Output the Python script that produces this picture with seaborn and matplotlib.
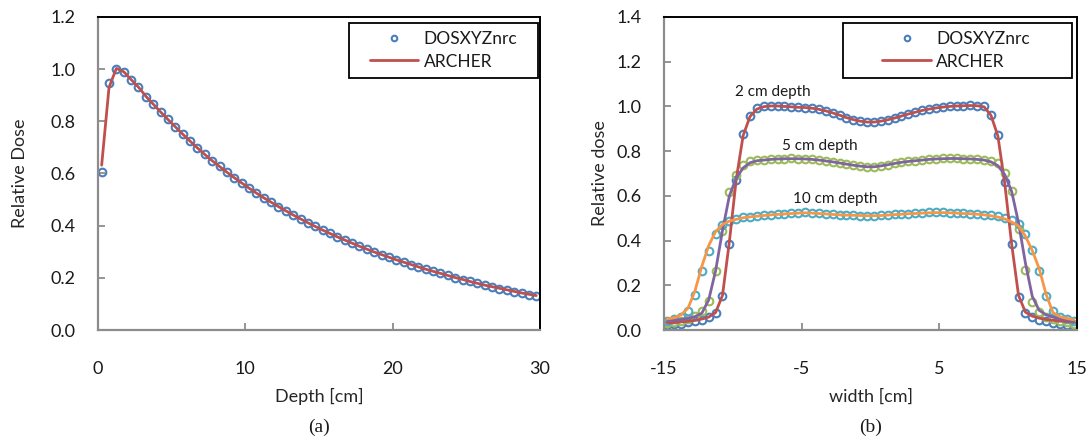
import numpy as np
import matplotlib
matplotlib.use("Agg")
import matplotlib.pyplot as plt
import seaborn as sns
from matplotlib.patches import Rectangle
from matplotlib.lines import Line2D

# (a) depth dose
depth = np.arange(0.25, 30, 0.5)
pdd_mc = [0.607, 0.945, 1.000, 0.988, 0.958, 0.930, 0.895, 0.866, 0.836, 0.808,
          0.779, 0.752, 0.724, 0.698, 0.673, 0.649, 0.627, 0.605, 0.584, 0.564,
          0.544, 0.525, 0.507, 0.490, 0.473, 0.456, 0.441, 0.426, 0.411, 0.397,
          0.383, 0.370, 0.357, 0.345, 0.333, 0.321, 0.310, 0.299, 0.289, 0.279,
          0.269, 0.260, 0.251, 0.242, 0.233, 0.225, 0.217, 0.209, 0.201, 0.193,
          0.186, 0.179, 0.172, 0.166, 0.159, 0.153, 0.147, 0.142, 0.136, 0.131]
pdd_archer = [0.632, 0.930, 1.003, 0.990, 0.960, 0.931, 0.896, 0.866, 0.836, 0.807,
              0.779, 0.751, 0.724, 0.698, 0.673, 0.649, 0.627, 0.605, 0.584, 0.564,
              0.544, 0.525, 0.507, 0.490, 0.473, 0.457, 0.441, 0.426, 0.411, 0.397,
              0.383, 0.370, 0.357, 0.345, 0.333, 0.321, 0.310, 0.299, 0.289, 0.279,
              0.269, 0.260, 0.251, 0.242, 0.233, 0.225, 0.217, 0.209, 0.201, 0.194,
              0.186, 0.179, 0.172, 0.166, 0.160, 0.154, 0.148, 0.142, 0.137, 0.132]

# (b) lateral profiles at 2, 5, 10 cm depth
width = np.arange(-14.75, 15, 0.5)
prof2_mc = [0.021, 0.025, 0.029, 0.034, 0.040, 0.046, 0.056, 0.075, 0.150, 0.385,
            0.670, 0.875, 0.958, 0.992, 1.001, 1.004, 1.003, 1.000, 0.998, 0.996,
            0.995, 0.993, 0.988, 0.981, 0.972, 0.961, 0.950, 0.941, 0.935, 0.929,
            0.930, 0.934, 0.941, 0.950, 0.958, 0.966, 0.975, 0.983, 0.989, 0.994,
            0.998, 1.000, 1.002, 1.004, 1.006, 1.004, 1.000, 0.962, 0.872, 0.660,
            0.383, 0.149, 0.075, 0.056, 0.046, 0.039, 0.033, 0.027, 0.021, 0.016]
prof2_archer = [0.031, 0.033, 0.036, 0.039, 0.043, 0.049, 0.058, 0.078, 0.155, 0.395,
                0.675, 0.870, 0.955, 0.988, 0.999, 1.002, 1.002, 1.000, 0.998, 0.996,
                0.995, 0.992, 0.987, 0.980, 0.971, 0.961, 0.950, 0.941, 0.934, 0.930,
                0.930, 0.934, 0.940, 0.948, 0.957, 0.966, 0.974, 0.982, 0.988, 0.993,
                0.997, 1.000, 1.002, 1.003, 1.004, 1.003, 0.998, 0.960, 0.868, 0.655,
                0.385, 0.155, 0.080, 0.062, 0.053, 0.047, 0.043, 0.040, 0.038, 0.036]
prof5_mc = [0.030, 0.034, 0.040, 0.048, 0.062, 0.085, 0.128, 0.262, 0.445, 0.615,
            0.695, 0.738, 0.755, 0.760, 0.762, 0.765, 0.766, 0.767, 0.768, 0.767,
            0.766, 0.763, 0.760, 0.756, 0.752, 0.748, 0.743, 0.738, 0.733, 0.730,
            0.731, 0.735, 0.740, 0.746, 0.750, 0.754, 0.758, 0.761, 0.764, 0.766,
            0.768, 0.768, 0.768, 0.767, 0.766, 0.763, 0.760, 0.756, 0.745, 0.700,
            0.620, 0.450, 0.268, 0.127, 0.080, 0.060, 0.048, 0.040, 0.034, 0.028]
prof5_archer = [0.040, 0.043, 0.047, 0.052, 0.060, 0.075, 0.135, 0.265, 0.445, 0.600,
                0.680, 0.725, 0.748, 0.757, 0.760, 0.763, 0.765, 0.766, 0.766, 0.766,
                0.765, 0.763, 0.760, 0.756, 0.752, 0.747, 0.742, 0.737, 0.733, 0.730,
                0.730, 0.734, 0.739, 0.745, 0.750, 0.754, 0.757, 0.760, 0.763, 0.765,
                0.766, 0.767, 0.767, 0.766, 0.765, 0.763, 0.760, 0.752, 0.735, 0.695,
                0.620, 0.480, 0.300, 0.150, 0.088, 0.068, 0.058, 0.050, 0.045, 0.041]
prof10_mc = [0.040, 0.047, 0.058, 0.085, 0.155, 0.265, 0.355, 0.430, 0.470, 0.488,
             0.495, 0.505, 0.507, 0.510, 0.513, 0.515, 0.518, 0.520, 0.522, 0.525,
             0.527, 0.524, 0.522, 0.520, 0.518, 0.516, 0.514, 0.513, 0.512, 0.511,
             0.511, 0.513, 0.515, 0.517, 0.519, 0.520, 0.522, 0.524, 0.526, 0.528,
             0.527, 0.525, 0.524, 0.522, 0.521, 0.519, 0.516, 0.513, 0.508, 0.500,
             0.490, 0.472, 0.428, 0.358, 0.265, 0.152, 0.085, 0.060, 0.048, 0.040]
prof10_archer = [0.050, 0.055, 0.068, 0.098, 0.175, 0.285, 0.378, 0.440, 0.472, 0.487,
                 0.495, 0.502, 0.506, 0.509, 0.512, 0.515, 0.517, 0.519, 0.521, 0.523,
                 0.524, 0.523, 0.521, 0.519, 0.517, 0.515, 0.514, 0.513, 0.512, 0.511,
                 0.511, 0.512, 0.514, 0.516, 0.518, 0.520, 0.521, 0.523, 0.524, 0.525,
                 0.525, 0.524, 0.523, 0.521, 0.520, 0.518, 0.515, 0.511, 0.505, 0.497,
                 0.483, 0.465, 0.420, 0.355, 0.275, 0.160, 0.078, 0.060, 0.052, 0.046]

blue, green, teal = '#4a7ebb', '#9bbb59', '#4bacc6'
red, purple, orange = '#c0504d', '#8064a2', '#f79646'
grey = '#8c8c8c'

sns.set_style("white")
plt.rcParams['font.family'] = ['Lato', 'DejaVu Sans']
plt.rcParams['text.color'] = '#1a1a1a'
plt.rcParams['axes.unicode_minus'] = False

fig = plt.figure(figsize=(10.91, 4.41), dpi=100)
ax1 = fig.add_axes([0.0898, 0.2517, 0.4051, 0.7098])
ax2 = fig.add_axes([0.6086, 0.2517, 0.3786, 0.7098])


def points(ax, x, y, c):
    sns.lineplot(x=x, y=y, ax=ax, marker='o', linestyle='', color=c,
                 markerfacecolor='none', markeredgecolor=c,
                 markeredgewidth=1.5, markersize=5.5)


def curve(ax, x, y, c):
    sns.lineplot(x=x, y=y, ax=ax, color=c, linewidth=2)


points(ax1, depth, pdd_mc, blue)
curve(ax1, depth, pdd_archer, red)

points(ax2, width, prof2_mc, blue)
points(ax2, width, prof5_mc, green)
points(ax2, width, prof10_mc, teal)
curve(ax2, width, prof2_archer, red)
curve(ax2, width, prof5_archer, purple)
curve(ax2, width, prof10_archer, orange)

ax2.text(-7.08, 1.064, '2 cm depth', ha='center', va='center', fontsize=11)
ax2.text(-3.67, 0.823, '5 cm depth', ha='center', va='center', fontsize=11)
ax2.text(-2.58, 0.586, '10 cm depth', ha='center', va='center', fontsize=11)

ax1.set_xlim(0, 30)
ax1.set_ylim(0, 1.2)
ax1.set_xticks([0, 10, 20, 30])
ax1.set_yticks(np.arange(0, 1.21, 0.2))
ax2.set_xlim(-15, 15)
ax2.set_ylim(0, 1.4)
ax2.set_xticks([-15, -5, 5, 15])
ax2.set_yticks(np.arange(0, 1.41, 0.2))

for ax in (ax1, ax2):
    ax.yaxis.set_major_formatter(matplotlib.ticker.FormatStrFormatter('%.1f'))
    for s in ('top', 'right'):
        ax.spines[s].set_color('black')
        ax.spines[s].set_linewidth(1.4)
    for s in ('left', 'bottom'):
        ax.spines[s].set_color(grey)
        ax.spines[s].set_linewidth(1.6)
    ax.tick_params(axis='both', direction='in', length=5, width=1.3, color=grey,
                   labelsize=13, labelcolor='#1a1a1a', bottom=True, left=True)
    ax.tick_params(axis='y', pad=16)
    ax.tick_params(axis='x', pad=22)

h = [Line2D([], [], marker='o', ls='', mfc='none', mec=blue, mew=1.5, ms=4),
     Line2D([], [], color=red, lw=2)]

ax1.set_xlabel('Depth [cm]', fontsize=13)
ax1.set_ylabel('Relative Dose', fontsize=13)
ax2.set_xlabel('width [cm]', fontsize=13)
ax2.set_ylabel('Relative dose', fontsize=13)
ax1.xaxis.set_label_coords(0.5, -0.214)
ax2.xaxis.set_label_coords(0.5, -0.214)
ax1.yaxis.set_label_coords(-0.176, 0.5)
ax2.yaxis.set_label_coords(-0.155, 0.5)
for ax in (ax1, ax2):
    ax.xaxis.label.set_verticalalignment('center')
    ax.yaxis.label.set_verticalalignment('center')

# legend boxes
ax1.add_patch(Rectangle((0.568, 0.805), 0.4275, 0.176, transform=ax1.transAxes,
                        facecolor='white', edgecolor='black', lw=1.3, zorder=4))
ax1.legend(h, ['DOSXYZnrc', 'ARCHER'], loc='center', bbox_to_anchor=(0.7817, 0.893),
           frameon=False, handlelength=2.8, handletextpad=0.3, labelspacing=0.35,
           fontsize=12.5)
ax2.add_patch(Rectangle((0.433, 0.805), 0.555, 0.176, transform=ax2.transAxes,
                        facecolor='white', edgecolor='black', lw=1.3, zorder=4))
ax2.legend(h, ['DOSXYZnrc', 'ARCHER'], loc='center', bbox_to_anchor=(0.707, 0.893),
           frameon=False, handlelength=2.8, handletextpad=0.3, labelspacing=0.35,
           fontsize=12.5)

fig.text(0.2924, 0.0317, '(a)', family='Liberation Serif', fontsize=14,
         ha='center', va='center')
fig.text(0.798, 0.0317, '(b)', family='Liberation Serif', fontsize=14,
         ha='center', va='center')

fig.savefig('out.png', dpi=100)
